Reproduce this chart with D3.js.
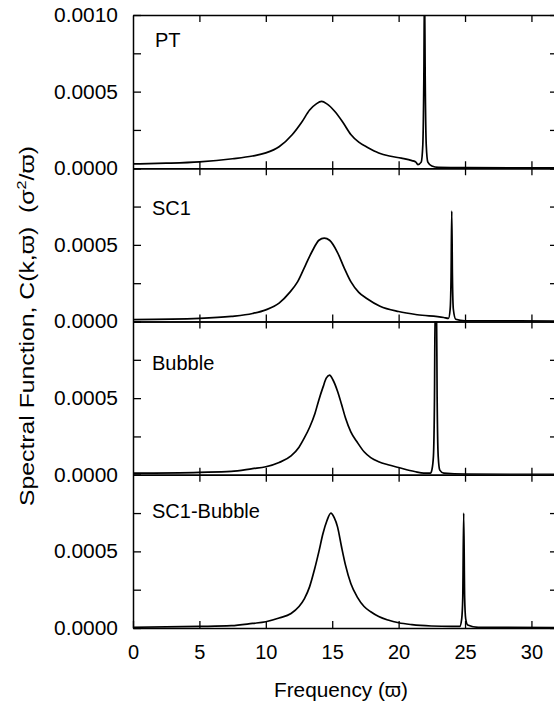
<!DOCTYPE html>
<html>
<head>
<meta charset="utf-8">
<script src="https://cdn.jsdelivr.net/npm/d3@7"></script>
<style>
  body { margin: 0; background: #fff; }
  text { font-family: "Liberation Sans", Arial, sans-serif; fill: #000; }
</style>
</head>
<body>
<div id="container"></div>
<script>
/* CONSTANTS AND GLOBALS */
const width = 554,
  height = 711,
  margin = { top: 15, bottom: 83, left: 133, right: -4 }

// panel names, top to bottom
const panelNames = ["PT", "SC1", "Bubble", "SC1-Bubble"]

// tick values
const freqTicks = [0, 5, 10, 15, 20, 25, 30]
const valueTicks = [0, 0.00025, 0.0005, 0.00075, 0.001]

/* DATA: [frequency, C(k,w)] */
const ptData = [
  [0, 0.000028], [2.5, 0.000033], [5, 0.000042], [7.5, 0.000062], [9, 0.00008],
  [10, 0.0001], [11, 0.00014], [12, 0.00022], [12.7, 0.0003], [13.3, 0.00038],
  [13.8, 0.00042], [14.2, 0.000436], [14.6, 0.00042], [15.2, 0.00037], [15.8, 0.0003],
  [16.4, 0.00022], [17, 0.00017], [17.7, 0.000134], [18.5, 0.0001], [19.3, 0.00008],
  [20.2, 0.000066], [21, 0.00005], [21.3, 0.00004], [21.45, 0.000024], [21.7, 0.00004],
  [21.82, 0.00015], [21.9, 0.0006], [21.95, 0.0012], [22.0, 0.0006], [22.08, 0.00015],
  [22.2, 0.00004], [22.5, 0.000015], [23, 0.000006], [25, 0.000004], [32, 0.000003]
]

const sc1Data = [
  [0, 0.000012], [5, 0.00002], [7.4, 0.000033], [9, 0.000052], [10, 0.000076],
  [11, 0.00012], [11.8, 0.00019], [12.4, 0.00026], [13, 0.00037], [13.5, 0.00046],
  [14, 0.00053], [14.4, 0.000544], [14.8, 0.00053], [15.4, 0.00045], [15.9, 0.00035],
  [16.4, 0.00026], [17, 0.00019], [17.6, 0.00015], [18.6, 0.0001], [20, 0.000065],
  [21.4, 0.000044], [23.4, 0.000026], [23.75, 0.00002], [23.88, 0.00008], [23.95, 0.0003],
  [24.0, 0.00072], [24.05, 0.0003], [24.12, 0.00008], [24.3, 0.000015], [25, 0.000005],
  [32, 0.000003]
]

const bubbleData = [
  [0, 0.00001], [5, 0.000016], [7.4, 0.000022], [9, 0.00004], [10, 0.000052],
  [11, 0.00008], [11.9, 0.000123], [12.5, 0.00018], [12.9, 0.00024], [13.3, 0.00031],
  [13.7, 0.0004], [14.0, 0.00049], [14.3, 0.00057], [14.55, 0.00063], [14.8, 0.00065],
  [15.05, 0.00062], [15.4, 0.000545], [15.7, 0.00046], [16.0, 0.00037], [16.4, 0.00028],
  [16.9, 0.00021], [17.4, 0.00015], [17.9, 0.000112], [18.5, 0.000085], [19.2, 0.000065],
  [20, 0.000047], [21.2, 0.000021], [21.9, 0.00001], [22.4, 0.00001], [22.5, 0.00003],
  [22.62, 0.00012], [22.7, 0.0005], [22.75, 0.0011], [22.85, 0.0011], [22.9, 0.0005],
  [22.98, 0.00012], [23.1, 0.00003], [23.4, 0.00001], [25, 0.000004], [32, 0.000003]
]

const sc1BubbleData = [
  [0, 0.000005], [5, 0.00001], [7.4, 0.000015], [9, 0.00003], [10, 0.000041],
  [11, 0.000065], [11.9, 0.000095], [12.5, 0.00014], [12.9, 0.00019], [13.3, 0.00027],
  [13.66, 0.00038], [14.0, 0.0005], [14.3, 0.000615], [14.6, 0.0007], [14.9, 0.00075],
  [15.15, 0.00072], [15.4, 0.00066], [15.7, 0.00053], [16.0, 0.00041], [16.4, 0.00029],
  [16.9, 0.0002], [17.4, 0.00014], [17.9, 0.000106], [18.5, 0.000075], [19.2, 0.000052],
  [20, 0.000034], [21, 0.000022], [22.45, 0.000013], [24.0, 0.00001], [24.6, 0.00001],
  [24.75, 0.00006], [24.83, 0.0002], [24.9, 0.00075], [24.97, 0.0002], [25.05, 0.00006],
  [25.2, 0.00002], [26, 0.000005], [32, 0.000003]
]

const panelData = [ptData, sc1Data, bubbleData, sc1BubbleData]

// label baselines inside each panel (offset from panel top)
const labelOffsets = [32, 47, 48, 43]

const panelHeight = (height - margin.top - margin.bottom) / panelNames.length

/* SCALES */
const xScale = d3.scaleLinear()
  .domain([0, 32])
  .range([margin.left, width - margin.right])

const formatValue = d3.format(".4f")

/* CREATE SVG ELEMENT */
const svg = d3.select("#container")
  .append("svg")
  .attr("width", width)
  .attr("height", height)

const lineGen = d3.line()
  .curve(d3.curveMonotoneX)

panelData.forEach((data, i) => {
  const top = margin.top + i * panelHeight
  const bottom = top + panelHeight

  const yScale = d3.scaleLinear()
    .domain([0, 0.001])
    .range([bottom, top])

  const g = svg.append("g").attr("class", "panel")

  g.append("clipPath")
    .attr("id", "clip" + i)
    .append("rect")
    .attr("x", margin.left)
    .attr("y", top)
    .attr("width", xScale(32) - margin.left)
    .attr("height", panelHeight)

  // curve
  g.append("path")
    .datum(data)
    .attr("clip-path", `url(#clip${i})`)
    .attr("fill", "none")
    .attr("stroke", "#000")
    .attr("stroke-width", 1.7)
    .attr("d", lineGen.x(d => xScale(d[0])).y(d => yScale(d[1])))

  // AXES
  const isLast = i === panelNames.length - 1
  const bottomAxis = d3.axisBottom(xScale)
    .tickValues(isLast ? freqTicks : freqTicks.slice(1))
    .tickSize(-7)
    .tickSizeOuter(0)
    .tickPadding(17)
    .tickFormat(isLast ? d3.format("d") : "")

  g.append("g")
    .attr("class", "xAxis")
    .attr("transform", `translate(0, ${bottom})`)
    .call(bottomAxis)

  g.append("g")
    .attr("class", "xAxisTop")
    .attr("transform", `translate(0, ${top})`)
    .call(d3.axisTop(xScale).tickValues(freqTicks.slice(1)).tickSize(-7).tickSizeOuter(0).tickFormat(""))

  const leftAxis = d3.axisLeft(yScale)
    .tickValues(valueTicks)
    .tickSize(-8)
    .tickSizeOuter(0)
    .tickPadding(15)
    .tickFormat(d => {
      if (d === 0 || d === 0.0005 || (d === 0.001 && i === 0)) return formatValue(d)
      return ""
    })

  g.append("g")
    .attr("class", "yAxis")
    .attr("transform", `translate(${margin.left}, 0)`)
    .call(leftAxis)

  g.append("g")
    .attr("class", "yAxisRight")
    .attr("transform", `translate(${xScale(32)}, 0)`)
    .call(d3.axisRight(yScale).tickValues(valueTicks).tickSize(-8).tickSizeOuter(0).tickFormat(""))

  // panel name
  g.append("text")
    .attr("x", i === 0 ? 155 : 152)
    .attr("y", top + labelOffsets[i])
    .attr("font-size", 20)
    .text(panelNames[i])
})

svg.selectAll(".domain").attr("stroke", "#000").attr("stroke-width", 1.5)
svg.selectAll(".tick line").attr("stroke", "#000").attr("stroke-width", 1.3)
svg.selectAll(".tick text")
  .attr("font-size", 20)
  .attr("font-family", '"Liberation Sans", Arial, sans-serif')

// stretch the value labels a little, the scanned font is wide
svg.selectAll(".yAxis .tick text")
  .filter(function () { return this.textContent !== "" })
  .attr("textLength", 64)
  .attr("lengthAdjust", "spacingAndGlyphs")

// AXIS TITLES
svg.append("text")
  .attr("x", 341)
  .attr("y", 697)
  .attr("text-anchor", "middle")
  .attr("font-size", 20)
  .attr("textLength", 134)
  .attr("lengthAdjust", "spacingAndGlyphs")
  .text("Frequency (\u03D6)")

const yTitle = svg.append("text")
  .attr("transform", `translate(34, ${326}) rotate(-90)`)
  .attr("text-anchor", "middle")
  .attr("font-size", 20)
  .attr("textLength", 360)
  .attr("lengthAdjust", "spacingAndGlyphs")
  .style("white-space", "pre")

yTitle.append("tspan").text("Spectral Function, C(k,\u03D6)  (\u03C3")
yTitle.append("tspan").attr("dy", -8).attr("font-size", 13).text("2")
yTitle.append("tspan").attr("dy", 8).text("/\u03D6)")
</script>
</body>
</html>
